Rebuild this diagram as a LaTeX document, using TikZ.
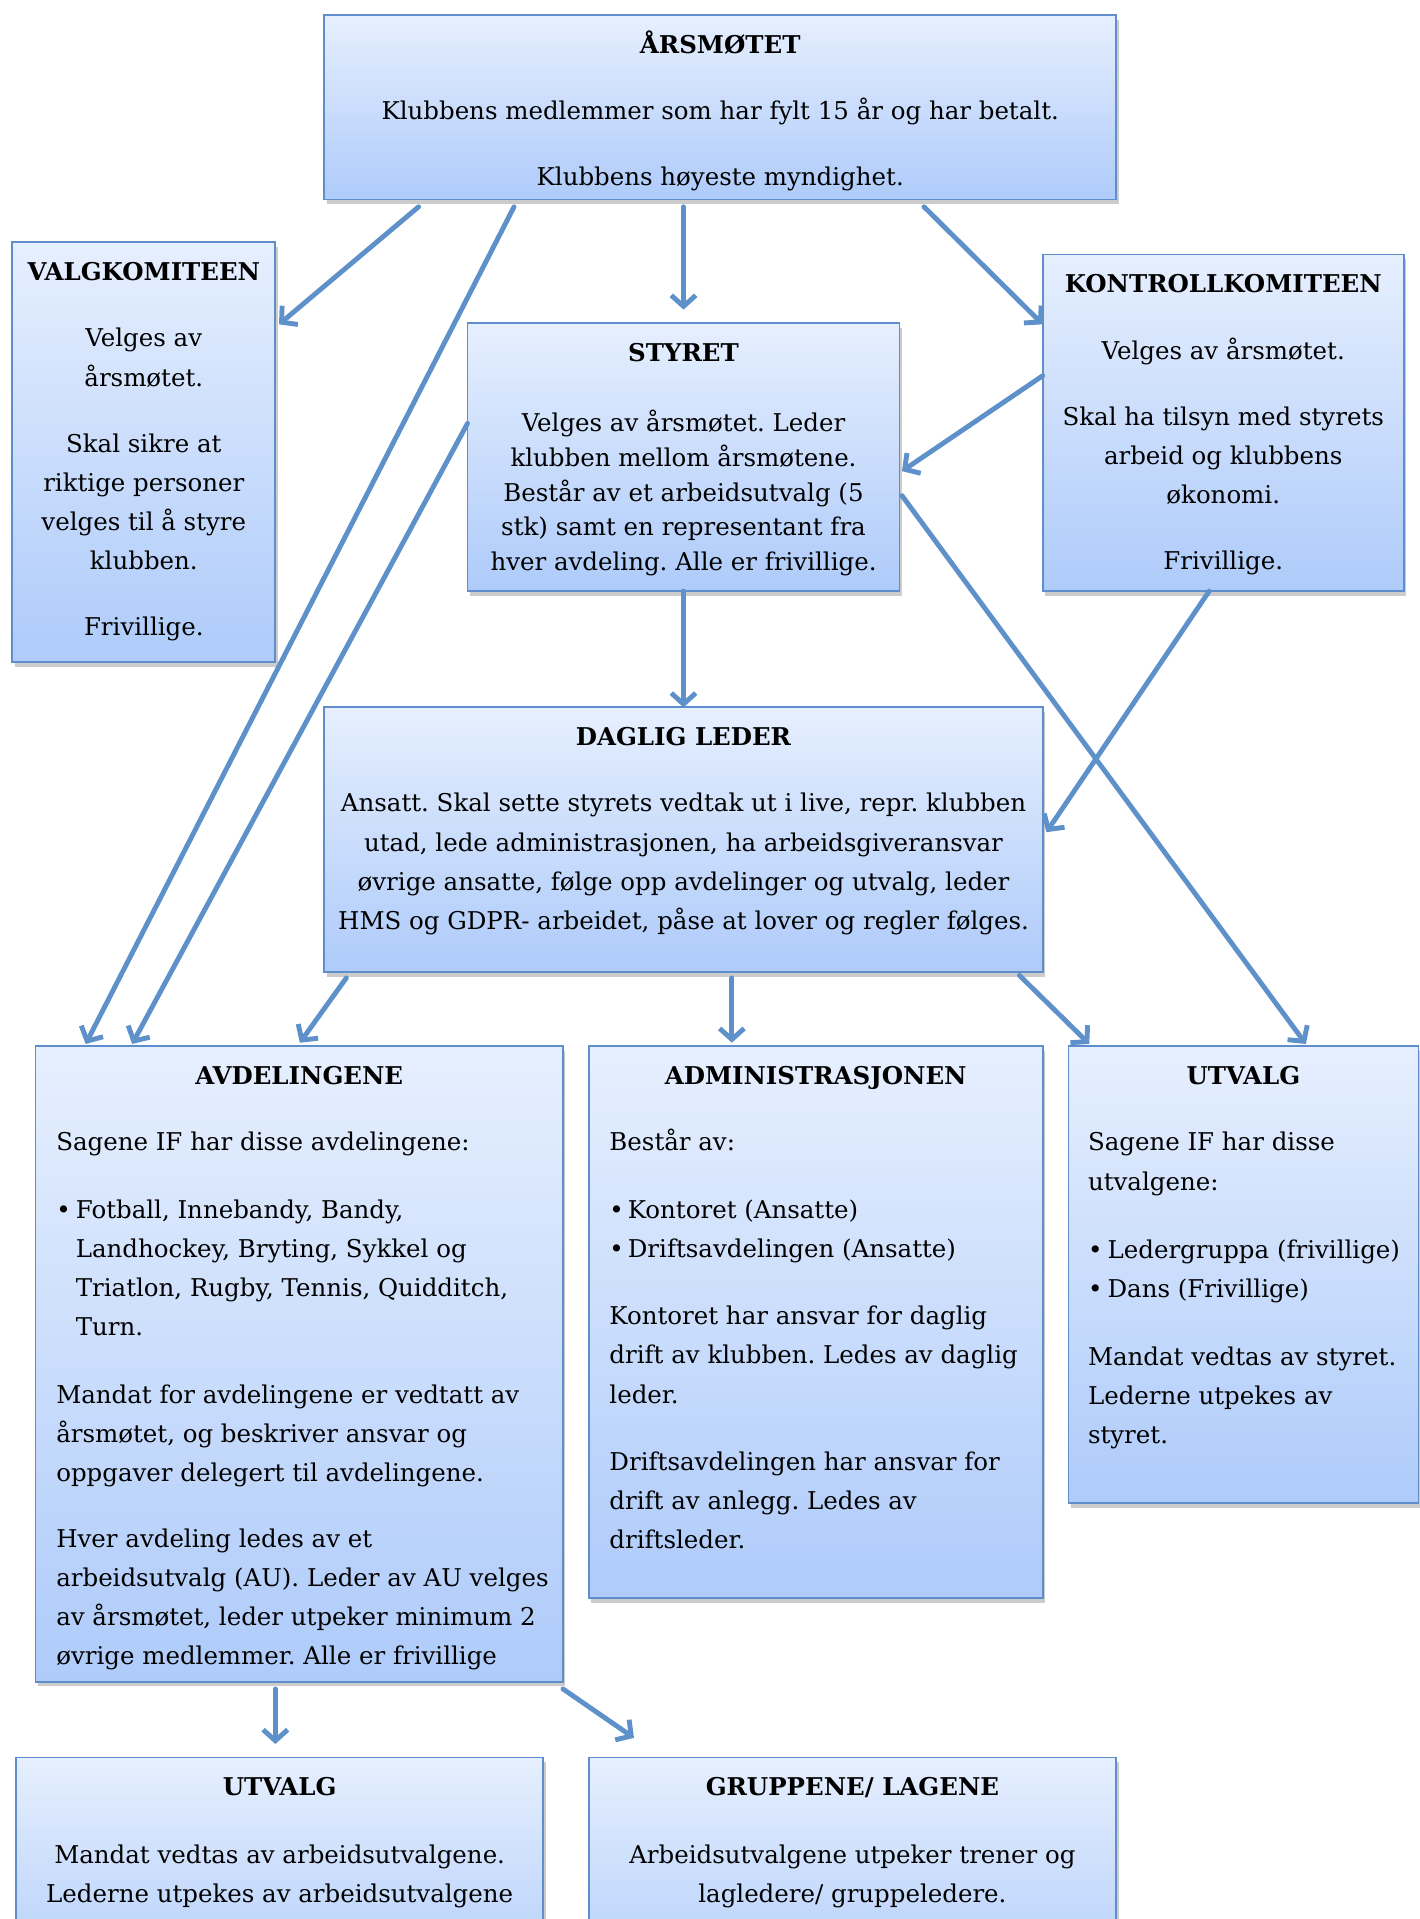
\documentclass[tikz,border=0pt]{standalone}
\usepackage{fontspec}
\setmainfont{DejaVu Serif}
\frenchspacing
\usetikzlibrary{arrows.meta,shadows}
\definecolor{boxtop}{RGB}{230,239,254}
\definecolor{boxbot}{RGB}{174,203,250}
\definecolor{boxline}{RGB}{96,142,204}
\definecolor{pilfarge}{RGB}{94,144,201}

\begin{document}
\begin{tikzpicture}[x=1pt, y=-1pt, >={Straight Barb[length=9pt,width=20pt]},
    boks/.style={draw=boxline, line width=1.5pt, top color=boxtop, bottom color=boxbot,
        anchor=north west, inner sep=0pt, outer sep=0pt, font=\fontsize{20}{32}\selectfont,
        drop shadow={shadow xshift=2pt, shadow yshift=-4pt, opacity=.4}},
    pil/.style={->, draw=pilfarge, line width=4pt, line cap=round}]
    \useasboundingbox (0,0) rectangle (1160,1568);

    \node[boks] (aars) at (265,12) {\parbox[c][151pt][t]{647pt}{\vspace*{9pt}\centering
        \strut\textbf{ÅRSMØTET}\\[22pt]
        Klubbens medlemmer som har fylt 15 år og har betalt.\\[22pt]
        Klubbens høyeste myndighet.}};

    \node[boks] (valg) at (10,198) {\parbox[c][343pt][t]{215pt}{\vspace*{9pt}\centering
        \strut\textbf{VALGKOMITEEN}\\[22pt]
        Velges av\\ årsmøtet.\\[22pt]
        Skal sikre at\\ riktige personer\\ velges til å styre\\ klubben.\\[22pt]
        Frivillige.}};

    \node[boks] (styret) at (382,264) {\parbox[c][219pt][t]{353pt}{\vspace*{9pt}\centering
        \strut\textbf{STYRET}\\[25pt]
        Velges av årsmøtet. Leder\\[-3.5pt]
        klubben mellom årsmøtene.\\[-3.5pt]
        Består av et arbeidsutvalg (5\\[-3.5pt]
        stk) samt en representant fra\\[-3.5pt]
        hver avdeling. Alle er frivillige.}};

    \node[boks] (kontroll) at (852,208) {\parbox[c][275pt][t]{295pt}{\vspace*{9pt}\centering
        \strut\textbf{KONTROLLKOMITEEN}\\[22pt]
        Velges av årsmøtet.\\[22pt]
        Skal ha tilsyn med styrets\\ arbeid og klubbens\\ økonomi.\\[22pt]
        Frivillige.}};

    \node[boks] (daglig) at (265,578) {\parbox[c][216pt][t]{587pt}{\vspace*{9pt}\centering
        \strut\textbf{DAGLIG LEDER}\\[22pt]
        Ansatt. Skal sette styrets vedtak ut i live, repr. klubben\\
        utad, lede administrasjonen, ha arbeidsgiveransvar\\
        øvrige ansatte, følge opp avdelinger og utvalg, leder\\
        HMS og GDPR- arbeidet, påse at lover og regler følges.}};

    \node[boks] (avd) at (29,855) {\parbox[c][519pt][t]{431pt}{\vspace*{9pt}\centering
        \strut\textbf{AVDELINGENE}\par\vspace{22pt}\raggedright\leftskip=17pt
        Sagene IF har disse avdelingene:\\[23pt]
        \makebox[16pt][l]{\textbullet}Fotball, Innebandy, Bandy,\\
        \hspace*{16pt}Landhockey, Bryting, Sykkel og\\
        \hspace*{16pt}Triatlon, Rugby, Tennis, Quidditch,\\
        \hspace*{16pt}Turn.\\[23pt]
        Mandat for avdelingene er vedtatt av\\
        årsmøtet, og beskriver ansvar og\\
        oppgaver delegert til avdelingene.\\[22pt]
        Hver avdeling ledes av et\\
        arbeidsutvalg (AU). Leder av AU velges\\
        av årsmøtet, leder utpeker minimum 2\\
        øvrige medlemmer. Alle er frivillige}};

    \node[boks] (adm) at (481,855) {\parbox[c][451pt][t]{371pt}{\vspace*{9pt}\centering
        \strut\textbf{ADMINISTRASJONEN}\par\vspace{22pt}\raggedright\leftskip=17pt
        Består av:\\[23pt]
        \makebox[15pt][l]{\textbullet}Kontoret (Ansatte)\\
        \makebox[15pt][l]{\textbullet}Driftsavdelingen (Ansatte)\\[23pt]
        Kontoret har ansvar for daglig\\
        drift av klubben. Ledes av daglig\\
        leder.\\[23pt]
        Driftsavdelingen har ansvar for\\
        drift av anlegg. Ledes av\\
        driftsleder.}};

    \node[boks] (utv) at (873,855) {\parbox[c][373pt][t]{286pt}{\vspace*{9pt}\centering
        \strut\textbf{UTVALG}\par\vspace{22pt}\raggedright\leftskip=16pt
        Sagene IF har disse\\
        utvalgene:\\[24pt]
        \makebox[16pt][l]{\textbullet}Ledergruppa (frivillige)\\
        \makebox[16pt][l]{\textbullet}Dans (Frivillige)\\[23pt]
        Mandat vedtas av styret.\\
        Lederne utpekes av\\
        styret.}};

    \node[boks] (utvb) at (13,1436) {\parbox[c][200pt][t]{431pt}{\vspace*{9pt}\centering
        \strut\textbf{UTVALG}\\[23pt]
        Mandat vedtas av arbeidsutvalgene.\\
        Lederne utpekes av arbeidsutvalgene}};

    \node[boks] (grupp) at (481,1436) {\parbox[c][200pt][t]{431pt}{\vspace*{9pt}\centering
        \strut\textbf{GRUPPENE/ LAGENE}\\[23pt]
        Arbeidsutvalgene utpeker trener og\\
        lagledere/ gruppeledere.}};

    \draw[pil] ([xshift=77pt,yshift=-6pt]aars.south west) -- ([xshift=3pt,yshift=-67pt]valg.north east);
    \draw[pil] ([xshift=155pt,yshift=-6pt]aars.south west) -- ([xshift=41pt,yshift=2pt]avd.north west);
    \draw[pil] ([xshift=293.5pt,yshift=-6pt]aars.south west) -- ([yshift=11pt]styret.north);
    \draw[pil] ([xshift=490pt,yshift=-6pt]aars.south west) -- ([yshift=-57pt]kontroll.north west);
    \draw[pil] ([yshift=-99pt]kontroll.north west) -- ([xshift=2pt,yshift=-121pt]styret.north east);
    \draw[pil] ([yshift=-82pt]styret.north west) -- ([xshift=79pt,yshift=2pt]avd.north west);
    \draw[pil] ([xshift=2pt,yshift=-141pt]styret.north east) -- ([xshift=194pt,yshift=2pt]utv.north west);
    \draw[pil] (styret.south) -- (daglig.north);
    \draw[pil] ([xshift=136pt]kontroll.south west) -- ([xshift=3pt,yshift=-102pt]daglig.north east);

    \draw[pil] ([xshift=18pt,yshift=-5pt]daglig.south west) -- ([xshift=216pt,yshift=3pt]avd.north west);
    \draw[pil] ([xshift=333pt,yshift=-5pt]daglig.south west) -- ([xshift=117pt,yshift=3pt]adm.north west);
    \draw[pil] ([xshift=568pt,yshift=-3pt]daglig.south west) -- ([xshift=17pt,yshift=2pt]utv.north west);

    \draw[pil] ([xshift=196pt,yshift=-6pt]avd.south west) -- ([xshift=212pt,yshift=11pt]utvb.north west);
    \draw[pil] ([yshift=-6pt]avd.south east) -- ([xshift=37pt,yshift=16pt]grupp.north west);
\end{tikzpicture}
\end{document}
